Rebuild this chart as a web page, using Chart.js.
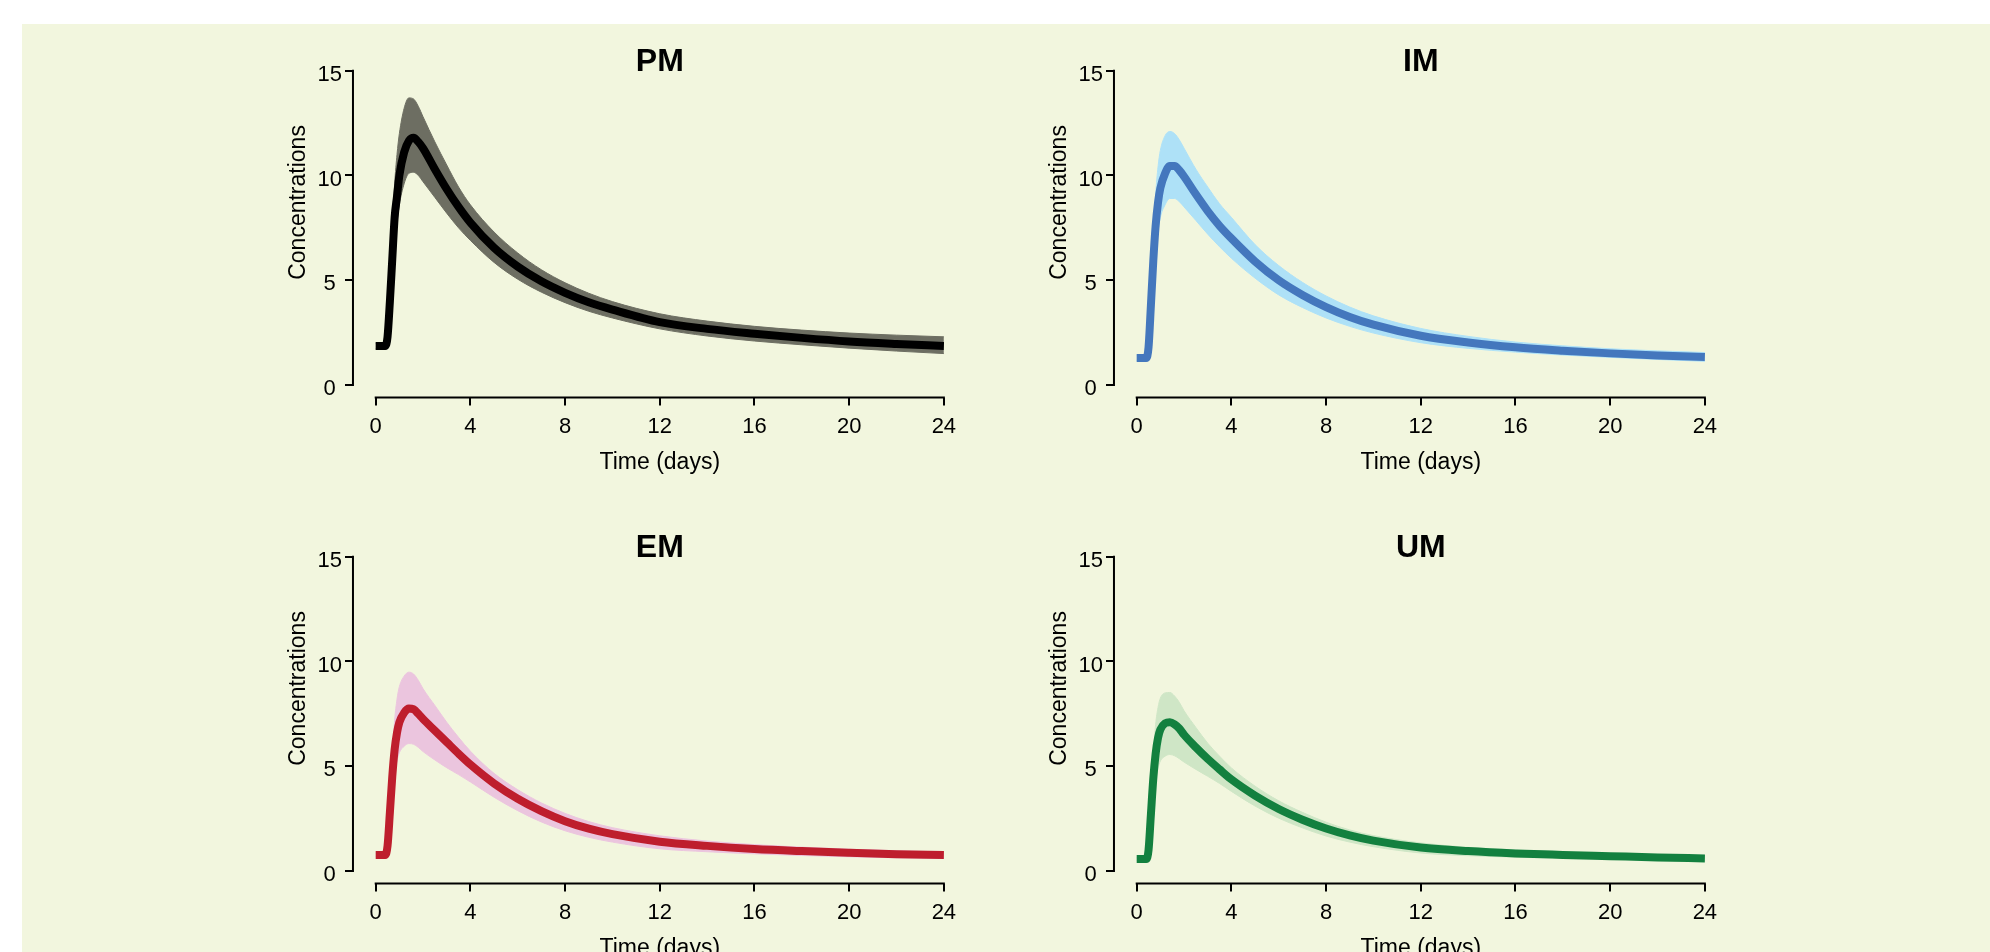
<!DOCTYPE html>
<html>
<head>
<meta charset="utf-8">
<script src="https://cdn.jsdelivr.net/npm/chart.js@4.4.1/dist/chart.umd.min.js"></script>
<style>
  html, body { margin: 0; padding: 0; background: #fff; overflow: hidden; }
  #page { position: relative; width: 1990px; height: 952px; overflow: hidden; }
  #bg { position: absolute; left: 22px; top: 24px; right: 0; bottom: 0; background: #f2f6de; }
  #page canvas { position: absolute; }
</style>
</head>
<body>
<div id="page"><div id="bg"></div></div>
<script>
// time points (days) shared by every curve
const timeDays = [0, 0.4, 0.5, 0.6, 0.7, 0.8, 0.9, 1.0, 1.2, 1.4, 1.6, 1.8, 2.0, 2.5, 3.0, 3.5, 4, 5, 6, 7, 8, 9, 10, 12, 14, 16, 18, 20, 22, 24];
const xTicks = [0, 4, 8, 12, 16, 20, 24];
const yTicks = [0, 5, 10, 15];

// PM
const pmMid   = [1.86, 1.86, 2.3, 4.0, 6.0, 8.0, 9.0, 10.0, 11.1, 11.65, 11.8, 11.6, 11.3, 10.3, 9.35, 8.5, 7.75, 6.55, 5.65, 4.95, 4.4, 3.95, 3.6, 3.0, 2.68, 2.45, 2.25, 2.08, 1.96, 1.86];
const pmUpper = [2.0, 2.0, 2.7, 5.0, 7.5, 9.6, 11.0, 12.0, 13.2, 13.7, 13.65, 13.3, 12.8, 11.6, 10.5, 9.45, 8.6, 7.3, 6.3, 5.5, 4.88, 4.38, 3.98, 3.4, 3.05, 2.8, 2.62, 2.48, 2.38, 2.3];
const pmLower = [1.72, 1.72, 2.0, 3.2, 4.8, 6.4, 7.7, 8.6, 9.6, 10.1, 10.15, 10.0, 9.7, 8.95, 8.2, 7.5, 6.9, 5.85, 5.05, 4.43, 3.93, 3.52, 3.2, 2.68, 2.34, 2.1, 1.92, 1.76, 1.62, 1.5];

// IM
const imMid   = [1.29, 1.29, 1.8, 3.8, 5.9, 7.6, 8.7, 9.4, 10.1, 10.45, 10.45, 10.25, 9.95, 9.1, 8.3, 7.6, 7.0, 5.9, 5.0, 4.3, 3.72, 3.25, 2.88, 2.35, 2.03, 1.8, 1.64, 1.51, 1.41, 1.34];
const imUpper = [1.42, 1.42, 2.1, 4.6, 7.1, 9.1, 10.4, 11.2, 11.9, 12.1, 12.0, 11.7, 11.3, 10.3, 9.45, 8.65, 8.0, 6.7, 5.7, 4.9, 4.25, 3.72, 3.3, 2.7, 2.32, 2.05, 1.87, 1.73, 1.63, 1.55];
const imLower = [1.17, 1.17, 1.5, 3.1, 4.8, 6.3, 7.3, 8.0, 8.6, 8.9, 8.9, 8.75, 8.5, 7.85, 7.2, 6.6, 6.05, 5.1, 4.3, 3.7, 3.2, 2.8, 2.48, 2.02, 1.75, 1.57, 1.43, 1.32, 1.22, 1.13];

// EM
const emMid   = [0.77, 0.77, 1.2, 2.8, 4.5, 5.8, 6.6, 7.1, 7.55, 7.75, 7.72, 7.5, 7.25, 6.7, 6.15, 5.6, 5.08, 4.18, 3.45, 2.86, 2.38, 2.02, 1.76, 1.4, 1.2, 1.05, 0.95, 0.87, 0.8, 0.76];
const emUpper = [0.86, 0.86, 1.45, 3.4, 5.5, 7.2, 8.2, 8.8, 9.3, 9.49, 9.4, 9.1, 8.7, 7.9, 7.1, 6.38, 5.72, 4.66, 3.88, 3.25, 2.75, 2.36, 2.07, 1.68, 1.43, 1.26, 1.14, 1.04, 0.97, 0.91];
const emLower = [0.69, 0.69, 0.95, 2.2, 3.6, 4.6, 5.25, 5.65, 5.95, 6.08, 6.05, 5.9, 5.7, 5.3, 4.93, 4.6, 4.25, 3.52, 2.88, 2.34, 1.92, 1.61, 1.38, 1.06, 0.92, 0.82, 0.74, 0.68, 0.63, 0.6];

// UM
const umMid   = [0.57, 0.57, 1.0, 2.7, 4.4, 5.6, 6.35, 6.75, 7.05, 7.1, 7.0, 6.8, 6.5, 5.9, 5.35, 4.85, 4.37, 3.6, 2.96, 2.45, 2.03, 1.7, 1.45, 1.12, 0.95, 0.84, 0.77, 0.71, 0.65, 0.6];
const umUpper = [0.63, 0.63, 1.25, 3.4, 5.5, 7.0, 7.8, 8.25, 8.5, 8.52, 8.35, 8.05, 7.65, 6.85, 6.1, 5.48, 4.92, 4.05, 3.35, 2.8, 2.33, 1.96, 1.69, 1.34, 1.13, 1.0, 0.91, 0.84, 0.78, 0.72];
const umLower = [0.5, 0.5, 0.8, 2.1, 3.4, 4.3, 4.9, 5.25, 5.48, 5.56, 5.5, 5.36, 5.2, 4.85, 4.52, 4.18, 3.8, 3.1, 2.52, 2.06, 1.67, 1.38, 1.16, 0.86, 0.73, 0.66, 0.6, 0.56, 0.52, 0.48];

const FONT = "'Liberation Sans', Arial, Helvetica, sans-serif";
Chart.defaults.font.family = FONT;
Chart.defaults.color = "#000";

const panels = [
  { title: "PM", mid: pmMid, upper: pmUpper, lower: pmLower, line: "#000000", band: "#6d6e62", left: 230, top: 24 },
  { title: "IM", mid: imMid, upper: imUpper, lower: imLower, line: "#4477bd", band: "#aee1f7", left: 991, top: 24 },
  { title: "EM", mid: emMid, upper: emUpper, lower: emLower, line: "#be1e2d", band: "#ebc5de", left: 230, top: 510 },
  { title: "UM", mid: umMid, upper: umUpper, lower: umLower, line: "#13803f", band: "#cfe6c6", left: 991, top: 510 }
];

const points = (arr) => timeDays.map((t, i) => ({ x: t, y: arr[i] }));

// R style axes: lines only from first to last tick, plus panel title and y label
const rAxes = {
  id: "rAxes",
  afterDraw(chart, args, opts) {
    const { ctx, chartArea, scales: { x, y } } = chart;
    ctx.save();
    ctx.strokeStyle = "#000";
    ctx.lineWidth = 2;
    ctx.beginPath();
    ctx.moveTo(x.getPixelForValue(xTicks[0]) - 1, chartArea.bottom);
    ctx.lineTo(x.getPixelForValue(xTicks[xTicks.length - 1]) + 1, chartArea.bottom);
    ctx.moveTo(chartArea.left, y.getPixelForValue(yTicks[0]) + 1);
    ctx.lineTo(chartArea.left, y.getPixelForValue(yTicks[yTicks.length - 1]) - 1);
    ctx.stroke();

    ctx.fillStyle = "#000";
    ctx.textAlign = "center";
    ctx.textBaseline = "alphabetic";
    ctx.font = "bold 32px " + FONT;
    ctx.fillText(opts.title, (chartArea.left + chartArea.right) / 2, chartArea.top + 12.6);

    ctx.font = "23px " + FONT;
    ctx.translate(75, (chartArea.top + chartArea.bottom) / 2 - 25.4);
    ctx.rotate(-Math.PI / 2);
    ctx.fillText("Concentrations", 0, 0);
    ctx.restore();
  }
};

panels.forEach((p) => {
  const canvas = document.createElement("canvas");
  canvas.width = 761;
  canvas.height = 486;
  canvas.style.left = p.left + "px";
  canvas.style.top = p.top + "px";
  document.getElementById("page").appendChild(canvas);

  new Chart(canvas, {
    type: "line",
    data: {
      datasets: [
        { data: points(p.mid), borderColor: p.line, borderWidth: 8, borderJoinStyle: "round", fill: false },
        { data: points(p.upper), borderColor: p.band, backgroundColor: p.band, borderWidth: 1, fill: "+1" },
        { data: points(p.lower), borderColor: p.band, borderWidth: 1, fill: false }
      ]
    },
    options: {
      responsive: false,
      animation: false,
      devicePixelRatio: 1,
      layout: { padding: { top: 34.1, right: 24.4, left: 0, bottom: 0 } },
      elements: {
        point: { radius: 0, hoverRadius: 0 },
        line: { cubicInterpolationMode: "monotone" }
      },
      plugins: {
        legend: { display: false },
        title: { display: false },
        tooltip: { enabled: false },
        rAxes: { title: p.title }
      },
      events: [],
      scales: {
        x: {
          type: "linear",
          bounds: "data",
          min: -0.96,
          max: 24.96,
          afterBuildTicks: (s) => { s.ticks = xTicks.map((v) => ({ value: v })); },
          afterFit: (s) => { s.height = 112.4; },
          border: { display: false },
          grid: { drawOnChartArea: false, drawTicks: true, tickLength: 8, color: "#000", lineWidth: 2 },
          ticks: { font: { size: 22 }, color: "#000", padding: 8, maxRotation: 0, autoSkip: false },
          title: { display: true, text: "Time (days)", font: { size: 23 }, color: "#000", padding: { top: 0, bottom: 34 } }
        },
        y: {
          type: "linear",
          bounds: "data",
          min: -0.6,
          max: 15.6,
          afterBuildTicks: (s) => { s.ticks = yTicks.map((v) => ({ value: v })); },
          afterFit: (s) => { s.width = 122.97; },
          border: { display: false },
          grid: { drawOnChartArea: false, drawTicks: true, tickLength: 8, color: "#000", lineWidth: 2 },
          ticks: { font: { size: 22 }, color: "#000", padding: 3, crossAlign: "center", labelOffset: 4 }
        }
      }
    },
    plugins: [rAxes]
  });
});
</script>
</body>
</html>
